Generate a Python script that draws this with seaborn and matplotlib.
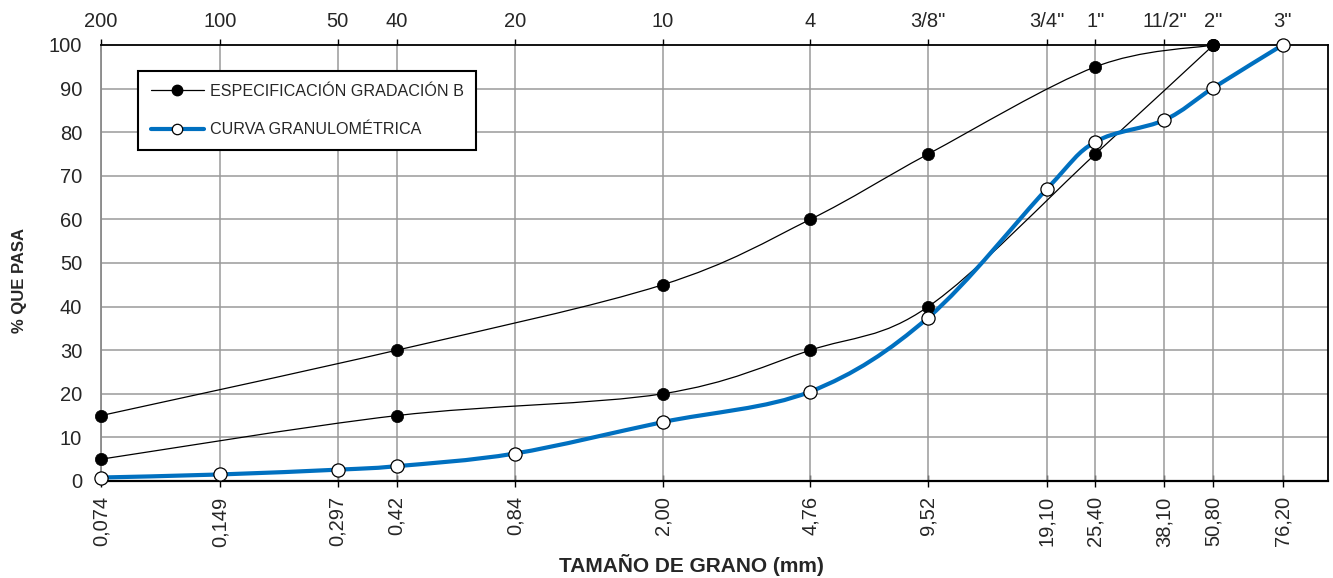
import numpy as np
import pandas as pd
import matplotlib
matplotlib.use("Agg")
import matplotlib.pyplot as plt
import seaborn as sns
from matplotlib.path import Path
from matplotlib.patches import PathPatch
from matplotlib.lines import Line2D
from matplotlib.ticker import FixedLocator, NullLocator

# ---- data ----
sieve_mm = [0.074, 0.149, 0.297, 0.42, 0.84, 2.00, 4.76, 9.52, 19.10, 25.40, 38.10, 50.80, 76.20]
sieve_mm_labels = ["0,074", "0,149", "0,297", "0,42", "0,84", "2,00", "4,76", "9,52",
                   "19,10", "25,40", "38,10", "50,80", "76,20"]
sieve_names = ["200", "100", "50", "40", "20", "10", "4", '3/8"', '3/4"', '1"', '11/2"', '2"', '3"']

spec_x = [0.074, 0.42, 2.00, 4.76, 9.52, 25.40, 50.80]
spec_upper = [15, 30, 45, 60, 75, 95, 100]
spec_lower = [5, 15, 20, 30, 40, 75, 100]

curve_x = [0.074, 0.149, 0.297, 0.42, 0.84, 2.00, 4.76, 9.52, 19.10, 25.40, 38.10, 50.80, 76.20]
curve_y = [0.8, 1.5, 2.6, 3.4, 6.3, 13.5, 20.5, 37.5, 67, 77.8, 82.8, 90.2, 100]

BLUE = "#0070C0"
FONT = ["Liberation Sans", "DejaVu Sans"]

sns.set_theme(style="white")
plt.rcParams["font.family"] = FONT


def smooth_path(xs, ys):
    """Bezier (Catmull-Rom style) path through the points, in log-x space."""
    u = np.log10(np.asarray(xs, float))
    v = np.asarray(ys, float)
    P = np.column_stack([u, v])
    n = len(P)
    verts = [P[0]]
    codes = [Path.MOVETO]
    for i in range(n - 1):
        p0 = P[i - 1] if i > 0 else P[i]
        p1 = P[i]
        p2 = P[i + 1]
        p3 = P[i + 2] if i + 2 < n else P[i + 1]
        c1 = p1 + (p2 - p0) / 6.0
        c2 = p2 - (p3 - p1) / 6.0
        verts += [c1, c2, p2]
        codes += [Path.CURVE4] * 3
    verts = np.array(verts)
    verts[:, 0] = 10 ** verts[:, 0]
    return Path(verts, codes)


fig = plt.figure(figsize=(13.33, 5.78), dpi=100)
ax = fig.add_axes([101 / 1333, 1 - 481 / 578, 1227 / 1333, 436 / 578])
ax.set_xscale("log")
ax.set_xlim(0.074, 99.5)
ax.set_ylim(0, 100)

# grid
for xv in sieve_mm:
    ax.axvline(xv, color="#9a9a9a", lw=1.1, zorder=1)
for yv in range(10, 100, 10):
    ax.axhline(yv, color="#9a9a9a", lw=1.1, zorder=1)

# smooth lines
for yy in (spec_upper, spec_lower):
    ax.add_patch(PathPatch(smooth_path(spec_x, yy), fill=False, edgecolor="black",
                           lw=0.9, zorder=3, transform=ax.transData))
ax.add_patch(PathPatch(smooth_path(curve_x, curve_y), fill=False, edgecolor=BLUE,
                       lw=3.0, zorder=4, transform=ax.transData, capstyle="round",
                       joinstyle="round"))

# markers
spec_df = pd.DataFrame({"x": spec_x * 2, "y": spec_upper + spec_lower})
sns.scatterplot(data=spec_df, x="x", y="y", ax=ax, s=78, color="black",
                edgecolor="black", linewidth=0.5, zorder=6, legend=False, clip_on=False)
curve_df = pd.DataFrame({"x": curve_x, "y": curve_y})
sns.scatterplot(data=curve_df, x="x", y="y", ax=ax, s=90, color="white",
                edgecolor="black", linewidth=0.9, zorder=7, legend=False, clip_on=False)

# spines
for side in ("top", "right", "bottom"):
    ax.spines[side].set_color("black")
    ax.spines[side].set_linewidth(1.3)
ax.spines["bottom"].set_linewidth(1.6)
ax.spines["left"].set_color("#8a8a8a")
ax.spines["left"].set_linewidth(1.3)

# bottom ticks
ax.xaxis.set_major_locator(FixedLocator(sieve_mm))
ax.xaxis.set_minor_locator(NullLocator())
ax.set_xticklabels(sieve_mm_labels)
ax.tick_params(axis="x", which="major", direction="inout", length=9, width=1.0,
               color="black", labelsize=14.5, labelrotation=90, pad=6.5, bottom=True)
ax.set_yticks(range(0, 101, 10))
ax.tick_params(axis="y", length=0, labelsize=14.5, pad=13.5, left=True)

# top axis
top = ax.twiny()
top.set_xscale("log")
top.set_xlim(ax.get_xlim())
top.xaxis.set_major_locator(FixedLocator(sieve_mm))
top.xaxis.set_minor_locator(NullLocator())
top.set_xticklabels(sieve_names)
top.tick_params(axis="x", direction="inout", length=9, width=1.0, color="black",
                labelsize=14.5, pad=5.5, top=True)
for s in top.spines.values():
    s.set_visible(False)

# labels
ax.set_xlabel("TAMAÑO DE GRANO (mm)", fontsize=15, fontweight="bold")
ax.xaxis.set_label_coords(0.481, -0.193)
ax.xaxis.label.set_va("center")
ax.set_ylabel("% QUE PASA", fontsize=12, fontweight="bold")
ax.yaxis.set_label_coords(-0.0668, 0.461)
ax.yaxis.label.set_va("center")

# legend
handles = [
    Line2D([], [], color="black", lw=0.9, marker="o", markersize=7.5,
           markerfacecolor="black", markeredgecolor="black"),
    Line2D([], [], color=BLUE, lw=3.0, marker="o", markersize=7.5,
           markerfacecolor="white", markeredgecolor="black", markeredgewidth=0.9),
]
leg = ax.legend(handles, ["ESPECIFICACIÓN GRADACIÓN B", "CURVA GRANULOMÉTRICA"],
                loc="upper left", bbox_to_anchor=(0.030, 0.940), borderaxespad=0,
                fontsize=11.6, frameon=True, fancybox=False, framealpha=1,
                edgecolor="black", handlelength=3.3, handletextpad=0.35,
                labelspacing=1.45, borderpad=0.8)
leg.get_frame().set_linewidth(1.5)
leg.set_zorder(10)
top.set_zorder(ax.get_zorder() - 1)
ax.patch.set_visible(True)

fig.savefig("out.png", dpi=100)
